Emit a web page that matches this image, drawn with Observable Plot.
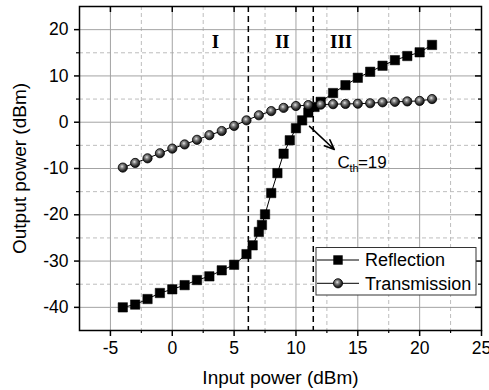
<!DOCTYPE html>
<html><head><meta charset="utf-8">
<script src="https://cdn.jsdelivr.net/npm/d3@7"></script>
<script src="https://cdn.jsdelivr.net/npm/@observablehq/plot@0.6"></script>
<style>body{margin:0;background:#fff} #chart{width:489px;height:390px}</style>
</head><body><div id="chart"></div>
<script>
// Data
const reflectionX = [-4,-3,-2,-1,0,1,2,3,4,5,6,6.5,7,7.25,7.5,8,8.5,9,9.5,10,10.5,11,11.5,12,13,14,15,16,17,18,19,20,21];
const reflectionY = [-40,-39.4,-38.2,-36.9,-36.1,-35.2,-34.1,-33.3,-32.0,-30.8,-28.5,-26.6,-23.7,-22.2,-19.9,-15.3,-11.0,-6.8,-3.9,-1.3,0.4,2.1,3.3,4.4,6.3,8.0,9.6,10.9,12.2,13.4,14.3,15.1,16.7];
const transmissionX = [-4,-3,-2,-1,0,1,2,3,4,5,6,7,8,9,10,11,12,13,14,15,16,17,18,19,20,21];
const transmissionY = [-9.8,-8.8,-7.8,-6.7,-5.7,-4.8,-3.8,-2.8,-1.9,-0.8,0.4,1.5,2.4,3.1,3.5,3.7,3.8,3.9,3.95,4.0,4.1,4.3,4.4,4.5,4.6,5.0];
const thresholds = [6.15, 11.4];
const regionNames = ["I", "II", "III"];
const regionX = [3.5, 8.9, 13.65];
const regionY = [17.4, 17.4, 17.4];
const arrowFrom = [11.1, -0.9];
const arrowTo = [13.1, -5.9];
const annotation = {x: 13.35, y: -8.7, base: "C", sub: "th", rest: "=19"};
const xMajor = [-5, 0, 5, 10, 15, 20, 25];
const xMinor = [-2.5, 2.5, 7.5, 12.5, 17.5, 22.5];
const yMajor = [-40, -30, -20, -10, 0, 10, 20];
const yMinor = [-35, -25, -15, -5, 5, 15];
const seriesNames = ["Reflection", "Transmission"];

const reflection = reflectionX.map((x, i) => ({x, y: reflectionY[i]}));
const transmission = transmissionX.map((x, i) => ({x, y: transmissionY[i]}));
const regions = regionNames.map((t, i) => ({t, x: regionX[i], y: regionY[i]}));

const W = 489, H = 390, mL = 79, mR = 8, mT = 6, mB = 60;
const fw = W - mL - mR, fh = H - mT - mB;

const chart = Plot.plot({
  width: W, height: H, marginLeft: mL, marginRight: mR, marginTop: mT, marginBottom: mB,
  style: {fontFamily: "'Liberation Sans', Arial, sans-serif", fontSize: "17.5px", color: "black", background: "white", overflow: "visible"},
  x: {domain: [-7.5, 25]},
  y: {domain: [-45, 25]},
  marks: [
    Plot.gridX(xMinor, {stroke: "#bdbdbd", strokeOpacity: 1, strokeDasharray: "4,3"}),
    Plot.gridY(yMinor, {stroke: "#bdbdbd", strokeOpacity: 1, strokeDasharray: "4,3"}),
    Plot.gridX(xMajor.filter(d => d < 25), {stroke: "#a3a3a3", strokeOpacity: 1}),
    Plot.gridY(yMajor, {stroke: "#a3a3a3", strokeOpacity: 1}),
    Plot.ruleX(thresholds, {stroke: "black", strokeWidth: 1.5, strokeDasharray: "6,4"}),
    Plot.line(reflection, {x: "x", y: "y", stroke: "black", strokeWidth: 1}),
    Plot.line(transmission, {x: "x", y: "y", stroke: "black", strokeWidth: 1}),
    Plot.dot(reflection, {x: "x", y: "y", symbol: "square", r: 5.3, fill: "black", stroke: "black", strokeWidth: 0.5}),
    Plot.dot(transmission, {x: "x", y: "y", r: 4.6, fill: "url(#ball)", stroke: "black", strokeWidth: 0.8}),
    Plot.text(regions, {x: "x", y: "y", text: "t", fontFamily: "'Liberation Serif', 'Times New Roman', serif", fontWeight: "bold", fontSize: 19}),
    Plot.arrow([0], {x1: () => arrowFrom[0], y1: () => arrowFrom[1], x2: () => arrowTo[0], y2: () => arrowTo[1], stroke: "black", strokeWidth: 1.6, headLength: 10, headAngle: 45}),
    Plot.text([annotation], {x: "x", y: "y", text: "base", textAnchor: "start", fontSize: 17}),
    Plot.text([annotation], {x: "x", y: "y", text: "sub", textAnchor: "start", fontSize: 11, dx: 12, dy: 6}),
    Plot.text([annotation], {x: "x", y: "y", text: "rest", textAnchor: "start", fontSize: 17, dx: 20.5}),
    Plot.frame({stroke: "black", strokeWidth: 1.5}),
    Plot.tickX(xMajor.filter(d => d < 25), {x: d => d, stroke: "black", strokeWidth: 1.5, insetBottom: fh - 6}),
    Plot.tickY(yMajor, {y: d => d, stroke: "black", strokeWidth: 1.5, insetLeft: fw - 6}),
    Plot.tickY(yMinor, {y: d => d, stroke: "black", strokeWidth: 1.2, insetLeft: fw - 3}),
    Plot.axisX(xMajor, {anchor: "bottom", tickSize: 6, tickPadding: 5, strokeWidth: 1.5, tickFormat: d => String(d), label: "Input power (dBm)", labelAnchor: "center", labelOffset: 53, labelArrow: "none"}),
    Plot.axisX(xMinor, {anchor: "bottom", tickSize: 3, strokeWidth: 1.2, tickFormat: () => "", label: null}),
    Plot.axisY(yMajor, {anchor: "left", tickSize: 5, tickPadding: 6, strokeWidth: 1.5, tickFormat: d => String(d), label: "Output power (dBm)", labelAnchor: "center", labelOffset: 67, labelArrow: "none"}),
    Plot.axisY(yMinor, {anchor: "left", tickSize: 3, strokeWidth: 1.2, tickFormat: () => "", label: null})
  ]
});
document.getElementById("chart").appendChild(chart);

const svg = d3.select(chart.tagName.toLowerCase() === "svg" ? chart : chart.querySelector("svg"));
svg.selectAll('g[aria-label="x-axis label"] text, g[aria-label="y-axis label"] text').style("font-size", "19px");

const defs = svg.insert("defs", ":first-child");
const grad = defs.append("radialGradient").attr("id", "ball").attr("cx", "42%").attr("cy", "38%").attr("r", "60%");
grad.append("stop").attr("offset", "0%").attr("stop-color", "#e8e8e8");
grad.append("stop").attr("offset", "30%").attr("stop-color", "#8a8a8a");
grad.append("stop").attr("offset", "70%").attr("stop-color", "#3a3a3a");
grad.append("stop").attr("offset", "100%").attr("stop-color", "#111");

// Legend
const lg = svg.append("g").attr("font-family", "'Liberation Sans', Arial, sans-serif").attr("text-anchor", "start");
lg.append("rect").attr("x", 316).attr("y", 247.5).attr("width", 160).attr("height", 47.5)
  .attr("fill", "white").attr("stroke", "#333").attr("stroke-width", 1);
seriesNames.forEach((name, i) => {
  const cy = 260 + i * 23.3;
  lg.append("line").attr("x1", 317).attr("x2", 359).attr("y1", cy).attr("y2", cy).attr("stroke", "black");
  if (i === 0) {
    lg.append("rect").attr("x", 333.3).attr("y", cy - 4.7).attr("width", 9.4).attr("height", 9.4).attr("fill", "black");
  } else {
    lg.append("circle").attr("cx", 338).attr("cy", cy).attr("r", 4.6).attr("fill", "url(#ball)").attr("stroke", "black").attr("stroke-width", 0.8);
  }
  lg.append("text").attr("x", 365).attr("y", cy).attr("dy", "0.36em").attr("font-size", 18).attr("text-anchor", "start").text(name);
});
</script>
</body></html>
